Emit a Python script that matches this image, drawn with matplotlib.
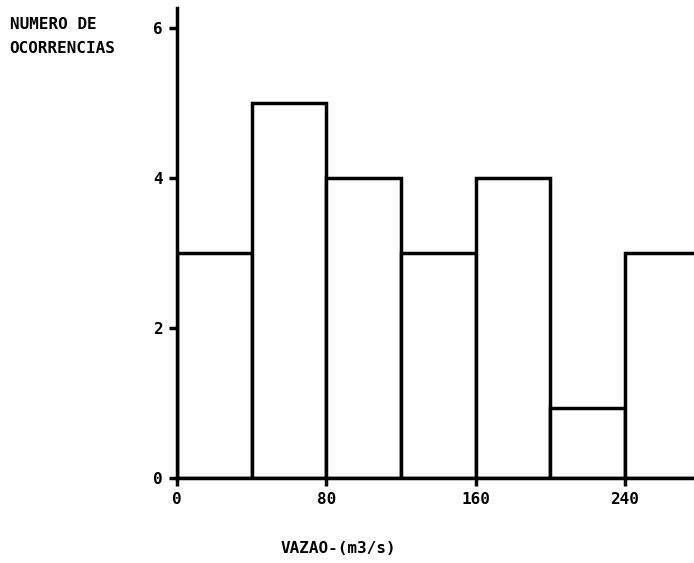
import matplotlib as mpl
mpl.use('Agg')

import numpy as np
import matplotlib.pyplot as plt

# class bins (lower edges) and counts
bin_edges = [0, 40, 80, 120, 160, 200, 240]
counts = [3, 5, 4, 3, 4, 0.93, 3]
bin_width = 40
xticks = [0, 80, 160, 240]
yticks = [0, 2, 4, 6]

plt.rcParams['font.family'] = ['DejaVu Sans Mono']
plt.rcParams['font.weight'] = 'bold'

fig = plt.figure(figsize=(6.94, 5.63), dpi=100)
ax = fig.add_axes([0.255, 0.151, 0.745, 0.835])

ax.bar(bin_edges, counts, width=bin_width, align='edge',
       facecolor='white', edgecolor='black', linewidth=2.5)

ax.set_xlim(0, 277)
ax.set_ylim(0, 6.27)
ax.set_xticks(xticks)
ax.set_yticks(yticks)

for s in ['top', 'right']:
    ax.spines[s].set_visible(False)
for s in ['left', 'bottom']:
    ax.spines[s].set_linewidth(2.5)

ax.tick_params(axis='both', direction='out', length=6, width=2.5,
               labelsize=11.5, pad=4)

fig.text(0.014, 0.97, 'NUMERO DE\nOCORRENCIAS', ha='left', va='top',
         fontsize=11.5, fontweight='bold', linespacing=1.75)
fig.text(0.487, 0.012, 'VAZAO-(m3/s)', ha='center', va='bottom',
         fontsize=11.5, fontweight='bold')

plt.savefig('out.png', dpi=100)
